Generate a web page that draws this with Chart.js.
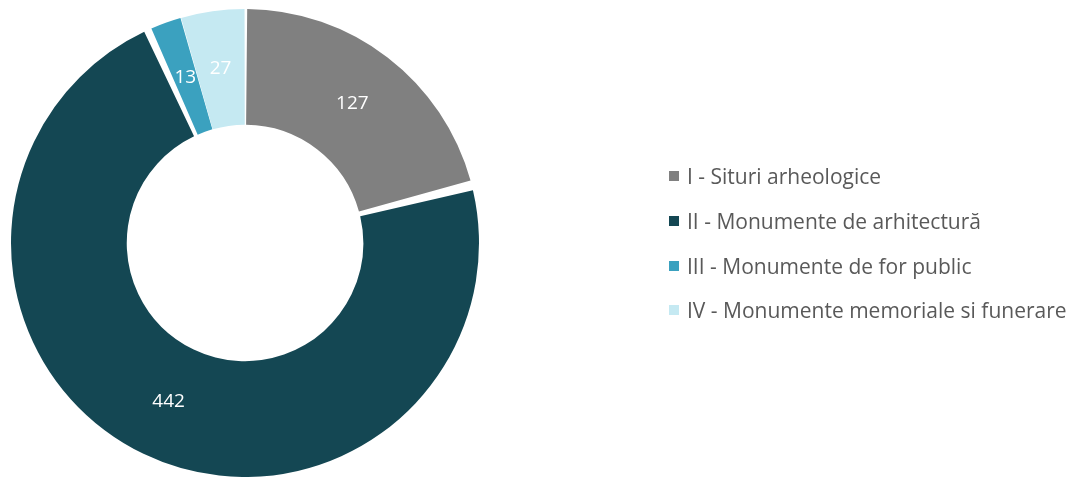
<!DOCTYPE html>
<html>
<head>
<meta charset="utf-8">
<script src="https://cdn.jsdelivr.net/npm/chart.js@4/dist/chart.umd.min.js"></script>
<style>
  html, body { margin: 0; padding: 0; background: #fff; }
  #wrap { position: relative; width: 1079px; height: 477px; }
  #legend { position: absolute; left: 669px; top: 154px; font-family: "Open Sans", sans-serif; font-size: 21px; color: #595959; }
  .item { height: 44.7px; display: flex; align-items: center; white-space: nowrap; }
  .sw { width: 10px; height: 10px; margin-right: 8px; flex: none; }
</style>
</head>
<body>
<div id="wrap">
  <canvas id="c" width="1079" height="477"></canvas>
  <div id="legend"></div>
</div>
<script>
const categories = ["I - Situri arheologice", "II - Monumente de arhitectură", "III - Monumente de for public", "IV - Monumente memoriale si funerare"];
const values = [127, 442, 13, 27];
const colors = ["#808080", "#144753", "#3BA1BF", "#C5E9F2"];

const labelPlugin = {
  id: "arcLabels",
  afterDatasetsDraw(chart) {
    const ctx = chart.ctx;
    const meta = chart.getDatasetMeta(0);
    ctx.save();
    ctx.fillStyle = "#ffffff";
    ctx.font = '19px "Open Sans", sans-serif';
    ctx.textAlign = "center";
    ctx.textBaseline = "middle";
    meta.data.forEach((arc, i) => {
      const p = arc.getCenterPoint();
      ctx.fillText(String(values[i]), p.x, p.y);
    });
    ctx.restore();
  }
};

new Chart(document.getElementById("c"), {
  type: "doughnut",
  data: {
    labels: categories,
    datasets: [{
      data: values,
      backgroundColor: colors,
      borderWidth: 0,
      spacing: 5
    }]
  },
  options: {
    responsive: false,
    animation: false,
    cutout: "50%",
    layout: { padding: { left: 11, top: 9, bottom: 0, right: 600 } },
    plugins: { legend: { display: false }, tooltip: { enabled: false } }
  },
  plugins: [labelPlugin]
});

const lg = document.getElementById("legend");
categories.forEach((c, i) => {
  const d = document.createElement("div");
  d.className = "item";
  const s = document.createElement("span");
  s.className = "sw";
  s.style.background = colors[i];
  const t = document.createElement("span");
  t.textContent = c;
  d.appendChild(s); d.appendChild(t);
  lg.appendChild(d);
});
</script>
</body>
</html>
